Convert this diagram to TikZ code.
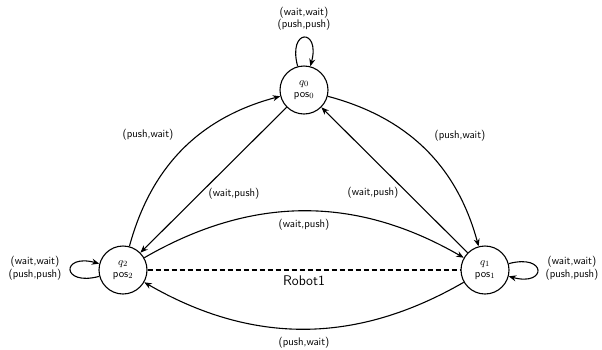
\documentclass[tikz,border=0pt]{standalone}
\usetikzlibrary{arrows.meta}
\begin{document}
\begin{tikzpicture}[x=1pt,y=1pt,
  state/.style={circle,draw,line width=1.1pt,minimum size=48pt,inner sep=0pt,align=center,font=\fontsize{11}{12}\sffamily},
  lbl/.style={font=\fontsize{11}{12.5}\sffamily,align=center,inner sep=0pt},
  edge/.style={line width=1.1pt,-{Stealth[length=7.5pt,width=6pt]}},
  dashline/.style={line width=1.1pt,dash pattern=on 5pt off 3pt}]
\useasboundingbox (0,-349) rectangle (602,0);
\node[state] (q0) at (304,-90) {$q_0$\\pos$_0$};
\node[state] (q2) at (123,-270) {$q_2$\\pos$_2$};
\node[state] (q1) at (485,-270) {$q_1$\\pos$_1$};

\draw[edge] (q0) to[loop above] (q0);
\draw[edge] (q2) to[loop left] (q2);
\draw[edge] (q1) to[loop right] (q1);

\draw[edge] (q2) to[bend left=30] (q0);
\draw[edge] (q0) -- (q2);
\draw[edge] (q0) to[bend left=30] (q1);
\draw[edge] (q1) -- (q0);
\draw[edge] (q2) to[bend left=30] (q1);
\draw[edge] (q1) to[bend left=30] (q2);
\draw[dashline] (q2) -- (q1);

\node[lbl] (l0) at (304,-19) {(wait,wait)\\(push,push)};
\node[lbl] (l2) at (35,-268) {(wait,wait)\\(push,push)};
\node[lbl] (l1) at (572,-268) {(wait,wait)\\(push,push)};
\node[lbl] (a) at (148,-135) {(push,wait)};
\node[lbl] (b) at (460,-136) {(push,wait)};
\node[lbl] (c) at (234,-194) {(wait,push)};
\node[lbl] (d) at (373,-193) {(wait,push)};
\node[lbl] (e) at (304,-225) {(wait,push)};
\node[font=\fontsize{14}{16}\sffamily,inner sep=0pt] (r) at (304,-281) {Robot1};
\node[lbl] (f) at (304,-343) {(push,wait)};
\end{tikzpicture}
\end{document}
